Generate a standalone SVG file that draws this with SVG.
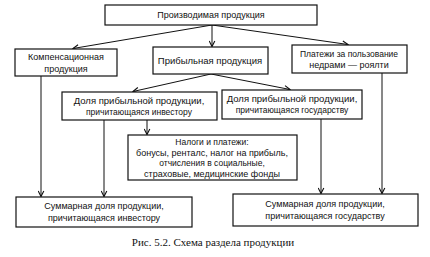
<svg xmlns="http://www.w3.org/2000/svg" width="430" height="257" viewBox="0 0 430 257">
<style>
.box{fill:#fff;stroke:#111;stroke-width:1.2}
.t{font-family:"Liberation Sans",Arial,sans-serif;font-size:9px;fill:#111;text-anchor:middle}
.s{font-size:8.5px}
.l{font-size:9.5px}
.c{stroke:#111;stroke-width:1;fill:none;marker-end:url(#a)}
.cap{font-family:"Liberation Serif","Times New Roman",serif;font-size:11px;fill:#111;text-anchor:middle}
</style>
<defs>
<marker id="a" viewBox="0 0 10 10" refX="9" refY="5" markerWidth="7" markerHeight="7" orient="auto" markerUnits="userSpaceOnUse">
<path d="M1,1 L9,5 L1,9" fill="none" stroke="#111" stroke-width="1.6"/>
</marker>
</defs>
<rect width="430" height="257" fill="#fff"/>
<g id="connectors">
<line class="c" x1="212" y1="25" x2="73" y2="48.5"/>
<line class="c" x1="212" y1="25" x2="212" y2="46.5"/>
<line class="c" x1="212" y1="25" x2="348" y2="44.5"/>
<line class="c" x1="211" y1="74" x2="133" y2="91.5"/>
<line class="c" x1="211" y1="74" x2="290" y2="89.5"/>
<line class="c" x1="41" y1="76" x2="41" y2="196.5"/>
<line class="c" x1="104" y1="120" x2="104" y2="196.5"/>
<line class="c" x1="147" y1="120" x2="147" y2="134.5"/>
<line class="c" x1="321" y1="119" x2="321" y2="193.5"/>
<line class="c" x1="382" y1="73" x2="382" y2="193.5"/>
</g>
<g id="n-top"><rect class="box" x="105" y="5" width="212" height="20"/><text class="t" x="211" y="18">Производимая продукция</text></g>
<g id="n-comp"><rect class="box" x="15" y="49" width="102" height="27"/><text class="t" x="66" y="60">Компенсационная</text><text class="t" x="66" y="72">продукция</text></g>
<g id="n-prib"><rect class="box" x="153" y="47" width="115" height="27"/><text class="t l" x="210" y="64">Прибыльная продукция</text></g>
<g id="n-plat"><rect class="box" x="292" y="45" width="115" height="28"/><text class="t s" x="349" y="57">Платежи за пользование</text><text class="t" x="349" y="68">недрами — роялти</text></g>
<g id="n-inv"><rect class="box" x="62" y="92" width="155" height="28"/><text class="t l" x="139" y="104">Доля прибыльной продукции,</text><text class="t s" x="139" y="115">причитающаяся инвестору</text></g>
<g id="n-state"><rect class="box" x="222" y="90" width="140" height="29"/><text class="t l" x="292" y="102">Доля прибыльной продукции,</text><text class="t s" x="292" y="113">причитающаяся государству</text></g>
<g id="n-tax"><rect class="box" x="128" y="135" width="169" height="45"/><text class="t s" x="212" y="145">Налоги и платежи:</text><text class="t" x="212" y="156">бонусы, ренталс, налог на прибыль,</text><text class="t s" x="212" y="166">отчисления в социальные,</text><text class="t" x="212" y="177">страховые, медицинские фонды</text></g>
<g id="n-suml"><rect class="box" x="16" y="197" width="176" height="30"/><text class="t" x="104" y="209">Суммарная доля продукции,</text><text class="t" x="104" y="221">причитающаяся инвестору</text></g>
<g id="n-sumr"><rect class="box" x="233" y="194" width="185" height="32"/><text class="t" x="325" y="207">Суммарная доля продукции,</text><text class="t" x="325" y="219">причитающаяся государству</text></g>
<text class="cap" x="213" y="246">Рис. 5.2. Схема раздела продукции</text>
</svg>
